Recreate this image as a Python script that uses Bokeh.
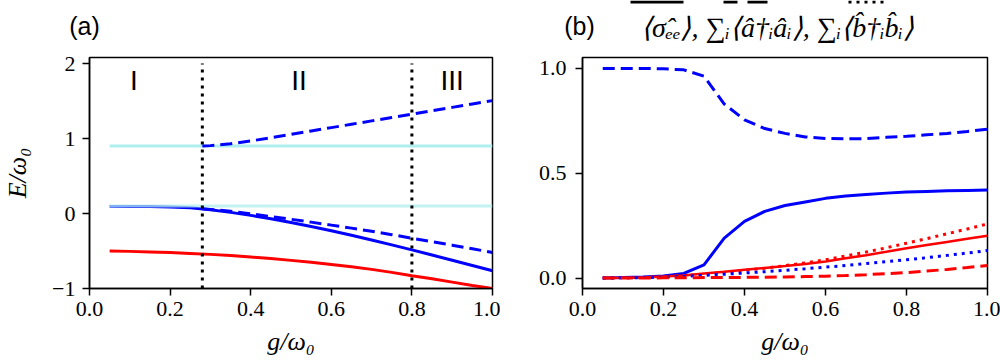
from bokeh.plotting import figure
from bokeh.layouts import row, column
from bokeh.models import Label, FixedTicker, BoxAnnotation, Range1d
from bokeh.embed import file_html
from bokeh.resources import INLINE

# ---------------- data ----------------
# coupling grid g/omega_0
g = [0.05, 0.10, 0.15, 0.20, 0.25, 0.30, 0.35, 0.40, 0.45, 0.50,
     0.55, 0.60, 0.65, 0.70, 0.75, 0.80, 0.85, 0.90, 0.95, 1.00]

# (a) energies E/omega_0
e_bare_upper = 0.9
e_bare_lower = 0.1
e_blue = [0.095, 0.094, 0.092, 0.088, 0.078, 0.050, 0.015, -0.025, -0.070, -0.120,
          -0.173, -0.230, -0.290, -0.353, -0.418, -0.485, -0.554, -0.623, -0.693, -0.764]
e_red = [-0.500, -0.505, -0.512, -0.520, -0.532, -0.545, -0.560, -0.580, -0.600, -0.625,
         -0.650, -0.680, -0.710, -0.745, -0.785, -0.830, -0.870, -0.915, -0.960, -1.000]
g_branch = [0.28, 0.30, 0.35, 0.40, 0.45, 0.50, 0.55, 0.60, 0.65, 0.70,
            0.75, 0.80, 0.85, 0.90, 0.95, 1.00]
e_branch_up = [0.900, 0.905, 0.930, 0.967, 1.010, 1.055, 1.100, 1.145, 1.190, 1.235,
               1.280, 1.325, 1.370, 1.415, 1.460, 1.505]
e_branch_down = [0.062, 0.055, 0.030, -0.005, -0.040, -0.077, -0.115, -0.155, -0.195, -0.237,
                 -0.282, -0.330, -0.375, -0.422, -0.470, -0.520]
boundaries = [0.28, 0.80]
regions = ["I", "II", "III"]
region_g = [0.11, 0.52, 0.90]

# (b) expectation values
sigma_blue = [0.000, 0.002, 0.005, 0.010, 0.022, 0.063, 0.190, 0.270, 0.318, 0.346,
              0.363, 0.380, 0.391, 0.399, 0.405, 0.410, 0.413, 0.416, 0.418, 0.420]
a_blue = [1.000, 1.000, 1.000, 0.998, 0.993, 0.963, 0.830, 0.755, 0.713, 0.690,
          0.673, 0.666, 0.664, 0.665, 0.671, 0.676, 0.683, 0.690, 0.699, 0.710]
b_blue = [0.000, 0.001, 0.002, 0.004, 0.008, 0.013, 0.018, 0.024, 0.030, 0.037,
          0.044, 0.052, 0.060, 0.069, 0.078, 0.087, 0.097, 0.108, 0.119, 0.131]
sigma_red = [0.000, 0.001, 0.003, 0.007, 0.012, 0.022, 0.030, 0.039, 0.048, 0.057,
             0.067, 0.079, 0.094, 0.109, 0.125, 0.142, 0.157, 0.172, 0.187, 0.202]
a_red = [0.000, 0.000, 0.000, 0.001, 0.001, 0.002, 0.002, 0.003, 0.004, 0.005,
         0.007, 0.009, 0.012, 0.016, 0.021, 0.026, 0.033, 0.041, 0.050, 0.060]
b_red = [0.000, 0.001, 0.003, 0.007, 0.012, 0.018, 0.027, 0.037, 0.047, 0.059,
         0.072, 0.087, 0.105, 0.124, 0.144, 0.166, 0.188, 0.211, 0.234, 0.258]

x_ticks = [0.0, 0.2, 0.4, 0.6, 0.8, 1.0]
x_labels = ["0.0", "0.2", "0.4", "0.6", "0.8", "1.0"]
ya_ticks = [-1, 0, 1, 2]
ya_labels = ["\u22121", "0", "1", "2"]
yb_ticks = [0.0, 0.5, 1.0]
yb_labels = ["0.0", "0.5", "1.0"]

panel_tags = ["(a)", "(b)"]
quantities = "\u27e8\u03c3\u0302\u2091\u2091\u27e9, \u2211\u1d62\u27e8a\u0302\u2020\u1d62a\u0302\u1d62\u27e9, " \
             "\u2211\u1d62\u27e8b\u0302\u2020\u1d62b\u0302\u1d62\u27e9"

# ---------------- styling helpers ----------------
SERIF = "Liberation Serif"
SANS = "Liberation Sans"
BLUE, RED, CYAN = "#0000ff", "#ff0000", "#afeeee"
DASH, DOT = "12 6", "3 5"
HEADER_H = 45


def style(p):
    p.outline_line_color = "black"
    p.outline_line_width = 1.5
    p.grid.visible = False
    p.background_fill_color = "white"
    p.border_fill_color = "white"
    for ax in (p.xaxis[0], p.yaxis[0]):
        ax.axis_line_width = 1.5
        ax.major_tick_line_width = 1.5
        ax.major_tick_out = 7
        ax.major_tick_in = 0
        ax.minor_tick_line_color = None
        ax.major_label_text_font = SERIF
        ax.major_label_text_font_size = "22px"
        ax.major_label_text_color = "black"
        ax.axis_label_text_font = SERIF
        ax.axis_label_text_font_style = "italic"
        ax.axis_label_text_font_size = "26px"
        ax.axis_label_text_color = "black"
    p.xaxis[0].ticker = FixedTicker(ticks=x_ticks)
    p.xaxis[0].major_label_overrides = dict(zip(x_ticks, x_labels))
    p.xaxis[0].major_label_standoff = 6
    p.xaxis[0].axis_label = "g/\u03c9\u2080"
    p.xaxis[0].axis_label_standoff = 8
    p.yaxis[0].major_label_standoff = 7


# ---------------- header strip: panel tags, quantity list, line-style key ----------------
head = figure(width=1000, height=HEADER_H, output_backend="svg", toolbar_location=None,
              x_range=Range1d(0, 1000), y_range=Range1d(HEADER_H, 0),
              min_border=0, min_border_left=0, min_border_right=0,
              min_border_top=0, min_border_bottom=0)
head.axis.visible = False
head.grid.visible = False
head.outline_line_color = None
head.border_fill_color = "white"
head.background_fill_color = "white"

for tag, cx in zip(panel_tags, [84, 579]):
    head.add_layout(Label(x=cx, y=25, text=tag, text_font=SANS, text_font_size="25px",
                          text_align="center", text_baseline="middle", text_color="black"))
head.add_layout(Label(x=777, y=27, text=quantities, text_font=SERIF,
                      text_font_style="italic", text_font_size="28px",
                      text_align="center", text_baseline="middle", text_color="black"))
# key handles (solid, dashed, dotted) peeking in at the top edge
for l, r in [(630, 683), (723, 737), (747, 767), (848, 851), (856, 859), (864, 867), (872, 875), (880, 883)]:
    head.add_layout(BoxAnnotation(left=l, right=r, top=0, bottom=3,
                                  fill_color="black", fill_alpha=1.0, line_color=None))

# ---------------- panel (a) ----------------
pa = figure(width=500, height=361 - HEADER_H, output_backend="svg", toolbar_location=None,
            x_range=Range1d(0.0, 1.0), y_range=Range1d(-1.0, 2.08),
            min_border_left=87, min_border_right=8, min_border_top=57 - HEADER_H,
            min_border_bottom=73)
style(pa)
pa.yaxis[0].ticker = FixedTicker(ticks=ya_ticks)
pa.yaxis[0].major_label_overrides = dict(zip(ya_ticks, ya_labels))
pa.yaxis[0].axis_label = "E/\u03c9\u2080"
pa.yaxis[0].axis_label_standoff = 17

pa.line(g, e_blue, line_color=BLUE, line_width=3)
pa.line([g[0], g[-1]], [e_bare_upper, e_bare_upper], line_color=CYAN, line_width=3)
pa.line([g[0], g[-1]], [e_bare_lower, e_bare_lower], line_color=CYAN, line_width=3, line_alpha=0.75)
pa.line(g_branch, e_branch_up, line_color=BLUE, line_width=3, line_dash=DASH)
pa.line(g_branch, e_branch_down, line_color=BLUE, line_width=3, line_dash=DASH)
pa.line(g, e_red, line_color=RED, line_width=3)
pa.segment(x0=boundaries, y0=[ya_ticks[0]] * 2, x1=boundaries, y1=[ya_ticks[-1]] * 2,
           line_color="black", line_width=3, line_dash=DOT)
for name, gx in zip(regions, region_g):
    pa.add_layout(Label(x=gx, y=1.77, text=name, text_font=SANS, text_font_size="28px",
                        text_align="center", text_baseline="middle", text_color="black"))

# ---------------- panel (b) ----------------
pb = figure(width=500, height=361 - HEADER_H, output_backend="svg", toolbar_location=None,
            x_range=Range1d(0.0, 1.0), y_range=Range1d(-0.05, 1.052),
            min_border_left=82, min_border_right=13, min_border_top=56 - HEADER_H,
            min_border_bottom=73)
style(pb)
pb.yaxis[0].ticker = FixedTicker(ticks=yb_ticks)
pb.yaxis[0].major_label_overrides = dict(zip(yb_ticks, yb_labels))
pb.yaxis[0].major_label_standoff = 9

pb.line(g, a_blue, line_color=BLUE, line_width=3, line_dash=DASH)
pb.line(g, sigma_blue, line_color=BLUE, line_width=3)
pb.line(g, b_red, line_color=RED, line_width=3, line_dash=DOT)
pb.line(g, sigma_red, line_color=RED, line_width=2.5)
pb.line(g, b_blue, line_color=BLUE, line_width=3, line_dash=DOT)
pb.line(g, a_red, line_color=RED, line_width=3, line_dash=DASH)

layout = column(head, row(pa, pb))
open("out.html", "w").write(file_html(layout, INLINE))
